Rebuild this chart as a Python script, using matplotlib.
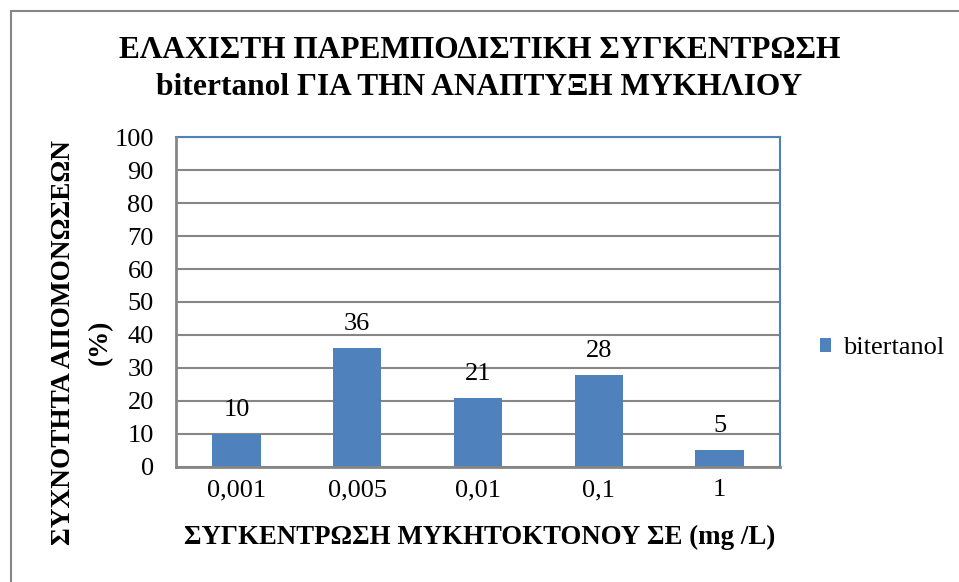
import matplotlib.pyplot as plt

# Data
concentrations = ['0,001', '0,005', '0,01', '0,1', '1']
frequency = [10, 36, 21, 28, 5]
y_ticks = list(range(0, 101, 10))

serif = ['Liberation Serif', 'DejaVu Serif']
plt.rcParams['font.family'] = serif

fig = plt.figure(figsize=(9.59, 5.82), dpi=100)
ax = fig.add_axes([0.1835, 0.1976, 0.6298, 0.567])

x = range(len(concentrations))
ax.bar(x, frequency, width=0.4, color='#4F81BD', label='bitertanol', zorder=3)

# value labels above the bars
for xi, v in zip(x, frequency):
    ax.text(xi, v + 7.3, str(v), ha='center', va='center', fontsize=19)

ax.set_xlim(-0.5, len(concentrations) - 0.5)
ax.set_ylim(0, 100)
ax.set_yticks(y_ticks)
ax.set_xticks(list(x))
ax.set_xticklabels(concentrations)
ax.tick_params(axis='both', length=0, labelsize=19)
ax.tick_params(axis='y', pad=16)
ax.tick_params(axis='x', pad=9)
ax.yaxis.grid(True, color='#868686', linewidth=1.5, zorder=0)

for side in ['left', 'bottom']:
    ax.spines[side].set_color('#868686')
    ax.spines[side].set_linewidth(2)
for side in ['top', 'right']:
    ax.spines[side].set_color('#4F81BD')
    ax.spines[side].set_linewidth(1.5)
ax.spines['left'].set_zorder(4)
ax.spines['bottom'].set_zorder(4)

fig.text(0.5005, 0.077, 'ΣΥΓΚΕΝΤΡΩΣΗ ΜΥΚΗΤΟΚΤΟΝΟΥ ΣΕ (mg /L)', fontsize=19.4,
         fontweight='bold', ha='center', va='center')
fig.text(0.0855, 0.412, 'ΣΥΧΝΟΤΗΤΑ ΑΠΟΜΟΝΩΣΕΩΝ\n(%)', fontsize=19.6,
         fontweight='bold', rotation=90, ha='center', va='center',
         linespacing=1.6, multialignment='center')

fig.text(0.5, 0.8814, 'ΕΛΑΧΙΣΤΗ ΠΑΡΕΜΠΟΔΙΣΤΙΚΗ ΣΥΓΚΕΝΤΡΩΣΗ\nbitertanol ΓΙΑ ΤΗΝ ΑΝΑΠΤΥΞΗ ΜΥΚΗΛΙΟΥ',
         ha='center', va='center', fontsize=22.6, fontweight='bold', linespacing=1.4)

ax.legend(loc='center left', bbox_to_anchor=(1.027, 0.36), frameon=False,
          fontsize=19, handlelength=0.42, handleheight=0.42, handletextpad=0.45)

# outer chart frame
frame = plt.Rectangle((11 / 959, -0.1), 1.2, 1.1 - 11 / 582, transform=fig.transFigure,
                      fill=False, edgecolor='#868686', linewidth=1.5)
fig.patches.append(frame)

plt.savefig('out.png', dpi=100)
